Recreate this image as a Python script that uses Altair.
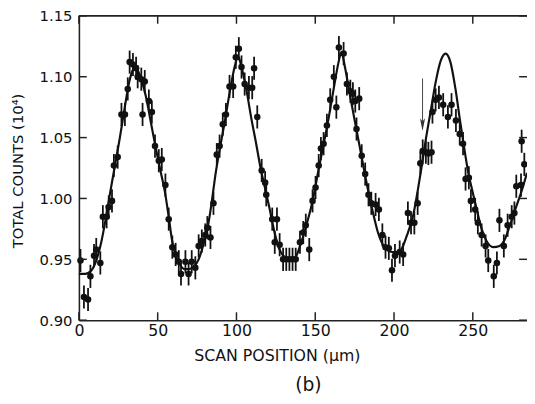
import altair as alt
import pandas as pd

# ---- data ----
X_PTS = [1.0, 3.2, 5.8, 7.3, 9.6, 11.0, 13.6, 15.2, 17.6, 18.9, 21.0, 22.2, 24.6, 27.0, 29.2,
         31.0, 32.2, 34.3, 36.3, 37.3, 39.6, 40.4, 41.8, 44.4, 46.3, 48.3, 50.7, 52.6, 54.9,
         57.0, 59.3, 61.4, 63.4, 64.8, 67.6, 69.6, 71.6, 73.9, 76.0, 78.0, 80.2, 81.5, 83.5,
         85.4, 87.5, 89.3, 91.3, 93.3, 95.6, 97.9, 99.6, 101.5, 103.2, 105.2, 107.9, 110.0,
         111.2, 113.2, 116.0, 118.2, 118.9, 122.7, 124.3, 125.7, 127.4, 129.6, 131.6, 133.6,
         135.6, 137.6, 140.3, 142.4, 144.0, 146.2, 148.3, 150.2, 152.2, 153.6, 155.3, 157.4,
         159.5, 161.8, 163.4, 165.0, 168.0, 170.1, 172.3, 173.9, 175.4, 176.2, 177.9, 179.5,
         181.7, 183.8, 185.6, 188.3, 190.4, 192.6, 194.6, 196.7, 198.7, 200.6, 203.6, 205.8,
         208.8, 210.8, 212.9, 215.0, 216.7, 218.2, 220.2, 221.8, 223.8, 224.4, 226.4, 228.5,
         231.2, 234.2, 236.5, 239.3, 241.7, 243.8, 245.4, 247.5, 248.8, 251.5, 253.2, 255.6,
         258.1, 259.8, 263.3, 265.3, 266.9, 269.7, 272.1, 274.7, 276.4, 277.6, 280.6, 281.0,
         282.7]
Y_PTS = [0.949, 0.919, 0.917, 0.936, 0.953, 0.958, 0.947, 0.985, 0.985, 0.993, 0.998, 1.027,
         1.034, 1.069, 1.069, 1.090, 1.112, 1.110, 1.107, 1.100, 1.098, 1.069, 1.096, 1.080,
         1.071, 1.043, 1.031, 1.032, 1.011, 0.983, 0.960, 0.954, 0.948, 0.938, 0.948, 0.938,
         0.948, 0.943, 0.961, 0.965, 0.970, 0.976, 0.968, 0.996, 1.036, 1.043, 1.061, 1.069,
         1.092, 1.092, 1.116, 1.123, 1.108, 1.094, 1.091, 1.091, 1.107, 1.067, 1.023, 1.013,
         1.003, 0.983, 0.964, 0.983, 0.962, 0.950, 0.950, 0.950, 0.950, 0.950, 0.964, 0.972,
         0.978, 0.958, 0.998, 1.009, 1.027, 1.041, 1.045, 1.060, 1.081, 1.100, 1.075, 1.124,
         1.119, 1.094, 1.088, 1.086, 1.080, 1.057, 1.082, 1.035, 1.020, 1.003, 0.996, 0.995,
         0.991, 0.970, 0.960, 0.959, 0.941, 0.953, 0.956, 0.954, 0.988, 0.980, 0.980, 0.996,
         1.029, 1.039, 1.038, 1.037, 1.038, 1.071, 1.081, 1.083, 1.077, 1.067, 1.077, 1.064,
         1.053, 1.045, 1.016, 1.017, 0.998, 0.991, 0.980, 0.970, 0.961, 0.949, 0.936, 0.947,
         0.982, 0.961, 0.978, 0.985, 0.988, 1.010, 1.011, 1.047, 1.028]
ERR = 0.0095  # half-length of the statistical error bars

CURVE_X = [0, 4, 8, 11, 14, 17, 20, 23, 26, 29, 32, 34, 35.5, 37, 39.5, 42.5, 45.6, 48.7,
           51.9, 54.5, 57, 59.2, 61.3, 64, 67, 70, 73, 76, 79, 82, 84.3, 86.6, 89.6, 92.7,
           95.8, 99, 101, 103, 106.2, 109.4, 112.5, 115.6, 117.7, 120.8, 124, 127, 130.5,
           134, 137, 140.6, 144.8, 148.5, 152.3, 155.4, 158.5, 161.7, 164.8, 166.5, 169, 172,
           175.2, 178.3, 181.5, 183.5, 186.7, 189.8, 194, 199, 203, 208.3, 212.3, 215, 217.5,
           220, 223.3, 226.5, 229.6, 232.7, 235.8, 239, 242, 245.2, 247.3, 249.4, 252.5,
           255.6, 258.7, 263, 267, 270.2, 273.3, 277.5, 281.7, 284.4]
CURVE_Y = [0.938, 0.938, 0.941, 0.949, 0.963, 0.983, 1.006, 1.028, 1.050, 1.074, 1.096,
           1.105, 1.108, 1.106, 1.098, 1.084, 1.063, 1.042, 1.022, 1.006, 0.985, 0.965,
           0.954, 0.946, 0.942, 0.942, 0.944, 0.950, 0.962, 0.978, 0.997, 1.019, 1.042,
           1.064, 1.088, 1.109, 1.117, 1.109, 1.090, 1.066, 1.045, 1.023, 1.011, 0.993,
           0.973, 0.959, 0.952, 0.950, 0.951, 0.962, 0.980, 0.999, 1.025, 1.045, 1.066,
           1.090, 1.112, 1.120, 1.107, 1.085, 1.063, 1.042, 1.020, 1.007, 0.988, 0.972,
           0.960, 0.956, 0.956, 0.970, 0.987, 1.006, 1.026, 1.047, 1.072, 1.096, 1.113,
           1.119, 1.112, 1.090, 1.063, 1.036, 1.020, 1.008, 0.991, 0.975, 0.965, 0.960,
           0.961, 0.966, 0.977, 0.993, 1.009, 1.021]

X_TICKS = [0, 50, 100, 150, 200, 250]
Y_TICKS = [0.90, 0.95, 1.00, 1.05, 1.10, 1.15]
X_DOMAIN = [0, 284.4]
Y_DOMAIN = [0.90, 1.15]

ARROW_X = [218.1]
ARROW_TOP = [1.0985]
ARROW_BASE = [1.063]
ARROW_HEAD = [1.0606]

# ---- tables ----
pts = pd.DataFrame({"x": X_PTS, "y": Y_PTS})
pts["lo"] = pts["y"] - ERR
pts["hi"] = pts["y"] + ERR
curve = pd.DataFrame({"x": CURVE_X, "y": CURVE_Y})
xt = pd.DataFrame({"x": X_TICKS})
yt = pd.DataFrame({"y": Y_TICKS})
arrow = pd.DataFrame({"x": ARROW_X, "top": ARROW_TOP, "base": ARROW_BASE, "head": ARROW_HEAD})

FONT = "DejaVu Sans"
INK = "#111111"
W, H = 455, 309

xs = alt.Scale(domain=X_DOMAIN, nice=False, zero=False)
ys = alt.Scale(domain=Y_DOMAIN, nice=False, zero=False)

xaxis = alt.Axis(values=X_TICKS, format="d", ticks=False, grid=False, labelFlush=False,
                 labelFont=FONT, labelFontSize=16, labelColor=INK, labelPadding=3,
                 domainColor="#222222", domainWidth=1.6,
                 title="SCAN POSITION (μm)", titleFont=FONT, titleFontSize=16,
                 titleFontWeight="normal", titleColor=INK, titleX=201, titleY=41,
                 titleAlign="center", titleBaseline="alphabetic")
yaxis = alt.Axis(values=Y_TICKS, format=".2f", ticks=False, grid=False, labelFlush=False,
                 labelFont=FONT, labelFontSize=15, labelColor=INK, labelPadding=7,
                 domainColor="#222222", domainWidth=1.6,
                 title="TOTAL COUNTS (10⁴)", titleFont=FONT, titleFontSize=15,
                 titleFontWeight="normal", titleColor=INK, titleX=-57, titleY=157,
                 titleAngle=-90, titleAlign="center", titleBaseline="alphabetic")


def X(field):
    return alt.X(field, type="quantitative", scale=xs, axis=xaxis)


def Y(field):
    return alt.Y(field, type="quantitative", scale=ys, axis=yaxis)


fit = alt.Chart(curve).mark_line(color=INK, strokeWidth=2.2, interpolate="monotone").encode(
    x=X("x"), y=Y("y"))

bars = alt.Chart(pts).mark_rule(color=INK, strokeWidth=1.8).encode(
    x=X("x"), y=Y("lo"), y2="hi")

dots = alt.Chart(pts).mark_circle(color=INK, size=44, opacity=1).encode(
    x=X("x"), y=Y("y"))

tick_bottom = alt.Chart(xt).mark_rule(color="#222222", strokeWidth=1.5).encode(
    x=X("x"), y=alt.value(H), y2=alt.value(H - 8))
tick_top = alt.Chart(xt).mark_rule(color="#222222", strokeWidth=1.5).encode(
    x=X("x"), y=alt.value(0), y2=alt.value(8))
tick_left = alt.Chart(yt).mark_rule(color="#222222", strokeWidth=1.5).encode(
    y=Y("y"), x=alt.value(0), x2=alt.value(8))
tick_right = alt.Chart(yt).mark_rule(color="#222222", strokeWidth=1.5).encode(
    y=Y("y"), x=alt.value(W - 8), x2=alt.value(W))
top_line = alt.Chart(xt.head(1)).mark_rule(color="#222222", strokeWidth=1.6).encode(
    y=alt.value(0), x=alt.value(0), x2=alt.value(W))

shaft = alt.Chart(arrow).mark_rule(color="#444444", strokeWidth=1).encode(
    x=X("x"), y=Y("top"), y2="base")
head = alt.Chart(arrow).mark_point(shape="M-0.4,-1L0,1L0.4,-1L0,-0.5Z", filled=True,
                                   size=170, color="#333333", opacity=1).encode(
    x=X("x"), y=Y("head"))

label = alt.Chart(pd.DataFrame({"t": ["(b)"]})).mark_text(
    font=FONT, fontSize=19, color=INK, baseline="middle", align="center").encode(
    text="t:N", x=alt.value(233), y=alt.value(375))

chart = alt.layer(
    fit, bars, dots, tick_bottom, tick_top, tick_left, tick_right, top_line, shaft, head, label
).properties(
    width=W, height=H,
    padding={"left": 72, "top": 5, "right": 0, "bottom": 74},
    autosize=alt.AutoSizeParams(type="none"),
    background="white",
).configure_view(stroke=None)

chart.save("out.html", embed_options={"renderer": "svg", "actions": False})
